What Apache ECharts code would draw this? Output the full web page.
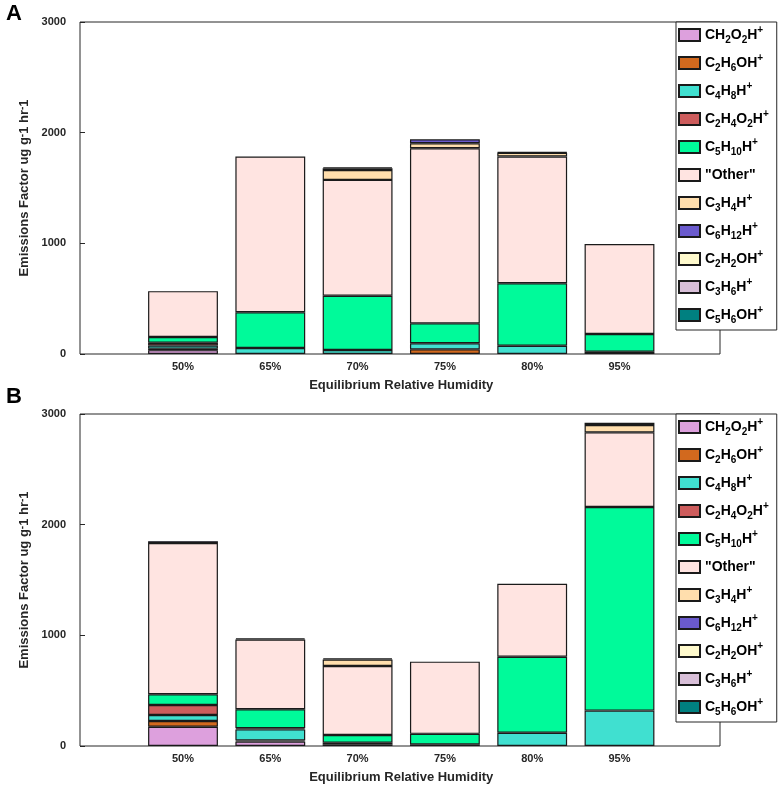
<!DOCTYPE html>
<html>
<head>
<meta charset="utf-8">
<script src="https://cdn.jsdelivr.net/npm/echarts@6/dist/echarts.min.js"></script>
<style>
  html, body { margin: 0; padding: 0; background: #fff; }
  #main { width: 778px; height: 786px; }
</style>
</head>
<body>
<div id="main"></div>
<script>
// categories (x axis)
var cats = ['50%', '65%', '70%', '75%', '80%', '95%'];
// ions, bottom to top of each stack
var names = ['CH2O2H+', 'C2H6OH+', 'C4H8H+', 'C2H4O2H+', 'C5H10H+', '"Other"',
             'C3H4H+', 'C6H12H+', 'C2H2OH+', 'C3H6H+', 'C5H6OH+'];
var colors = ['#DDA0DD', '#D2691E', '#40E0D0', '#CD5C5C', '#00FA9A', '#FFE4E1',
              '#FFDEAD', '#6A5ACD', '#FFFACD', '#D8BFD8', '#008080'];
var yTicks = [0, 1000, 2000, 3000];

// panel A, one row per ion (same order as names)
var valuesA = [
  [35, 0, 0, 0, 0, 0],            // CH2O2H+
  [12, 0, 0, 42, 0, 0],           // C2H6OH+
  [30, 54, 36, 55, 75, 20],       // C4H8H+
  [25, 0, 0, 0, 0, 0],            // C2H4O2H+
  [52, 323, 491, 180, 564, 161],  // C5H10H+
  [414, 1408, 1046, 1582, 1145, 813], // "Other"
  [0, 0, 90, 45, 35, 0],          // C3H4H+
  [0, 0, 15, 36, 0, 0],           // C6H12H+
  [0, 0, 10, 0, 5, 0],            // C2H2OH+
  [0, 0, 0, 0, 0, 0],             // C3H6H+
  [0, 0, 0, 0, 0, 0]              // C5H6OH+
];
// panel B
var valuesB = [
  [174, 40, 0, 0, 0, 0],
  [52, 10, 15, 0, 0, 0],
  [54, 100, 15, 15, 120, 320],
  [90, 10, 0, 0, 0, 0],
  [97, 172, 70, 95, 687, 1840],
  [1368, 631, 623, 652, 658, 674],
  [0, 0, 59, 0, 0, 66],
  [15, 10, 10, 0, 0, 0],
  [0, 0, 0, 0, 0, 0],
  [0, 0, 0, 0, 0, 21],
  [0, 0, 0, 0, 0, 0]
];

var FONT = 'Liberation Sans';
var AX = '#262626';

// subscripts for digits, superscript for +
function chem(n) {
  return n.replace(/(\d+)/g, '{s|$1}').replace(/\+/g, '{p|+}');
}

var myChart = echarts.init(document.getElementById('main'));

function frameGrid(top) {
  return { left: 80, top: top, width: 640, height: 332, show: true,
           borderColor: AX, borderWidth: 1, backgroundColor: 'transparent' };
}
function barGrid(top) {
  return { left: 139.35, top: top, width: 523.8, height: 332 };
}
var labelStyle = { fontFamily: FONT, fontWeight: 'bold', fontSize: 11, color: AX };

function xAxes(g) {
  return [
    { gridIndex: g, type: 'value', min: 0, max: 1, show: false },
    { gridIndex: g + 1, type: 'category', data: cats, z: 5,
      axisLine: { show: false },
      axisTick: { inside: true, alignWithLabel: true, length: 5, lineStyle: { color: AX } },
      axisLabel: Object.assign({ margin: 7 }, labelStyle),
      name: 'Equilibrium Relative Humidity', nameLocation: 'middle', nameGap: 25,
      nameTextStyle: { fontFamily: FONT, fontWeight: 'bold', fontSize: 13, color: AX } },
    { gridIndex: g + 1, type: 'category', data: cats, position: 'top', z: 5,
      axisLine: { show: false },
      axisTick: { inside: true, alignWithLabel: true, length: 5, lineStyle: { color: AX } },
      axisLabel: { show: false } }
  ];
}
function yAxes(g) {
  return [
    { gridIndex: g, type: 'value', min: yTicks[0], max: yTicks[yTicks.length - 1], interval: 1000,
      axisLine: { show: false }, splitLine: { show: false },
      axisTick: { inside: true, length: 5, lineStyle: { color: AX } },
      axisLabel: Object.assign({ margin: 14, formatter: function (v) { return String(v); } }, labelStyle),
      name: 'Emissions Factor ug g{p|-}1 hr{p|-}1', nameLocation: 'middle', nameRotate: 90, nameGap: 43,
      nameTextStyle: { fontFamily: FONT, fontWeight: 'bold', fontSize: 13, color: AX,
        rich: { p: { fontFamily: FONT, fontWeight: 'bold', fontSize: 10, color: AX, verticalAlign: 'top' } } } },
    { gridIndex: g + 1, type: 'value', min: 0, max: 3000, show: false }
  ];
}
function legendAt(top) {
  return {
    top: top, left: 676, orient: 'vertical', data: names, icon: 'rect',
    itemWidth: 21, itemHeight: 12, itemGap: 8, padding: [3, 8, 5, 2],
    backgroundColor: '#fff', borderColor: AX, borderWidth: 1,
    formatter: chem,
    textStyle: {
      fontFamily: FONT, fontWeight: 'bold', fontSize: 14, color: '#000', lineHeight: 20,
      rich: {
        s: { fontFamily: FONT, fontWeight: 'bold', fontSize: 10, color: '#000', lineHeight: 11, verticalAlign: 'bottom' },
        p: { fontFamily: FONT, fontWeight: 'bold', fontSize: 10, color: '#000', lineHeight: 11, verticalAlign: 'top' }
      }
    }
  };
}
function seriesFor(vals, stack, xi, yi) {
  return names.map(function (n, i) {
    return {
      type: 'bar', name: n, stack: stack, xAxisIndex: xi, yAxisIndex: yi,
      barWidth: '80%',
      itemStyle: { color: colors[i], borderColor: '#1a1a1a', borderWidth: 1.2 },
      data: vals[i].map(function (v) { return v === 0 ? '-' : v; })
    };
  });
}

var option = {
  animation: false,
  title: [
    { text: 'A', left: 1, top: -2, textStyle: { fontFamily: FONT, fontWeight: 'bold', fontSize: 22, color: '#000' } },
    { text: 'B', left: 1, top: 381, textStyle: { fontFamily: FONT, fontWeight: 'bold', fontSize: 22, color: '#000' } }
  ],
  grid: [frameGrid(22), barGrid(22), frameGrid(414), barGrid(414)],
  xAxis: xAxes(0).concat(xAxes(2)),
  yAxis: yAxes(0).concat(yAxes(2)),
  legend: [legendAt(22), legendAt(414)],
  series: seriesFor(valuesA, 'A', 1, 1).concat(seriesFor(valuesB, 'B', 4, 3))
};
myChart.setOption(option);
</script>
</body>
</html>
